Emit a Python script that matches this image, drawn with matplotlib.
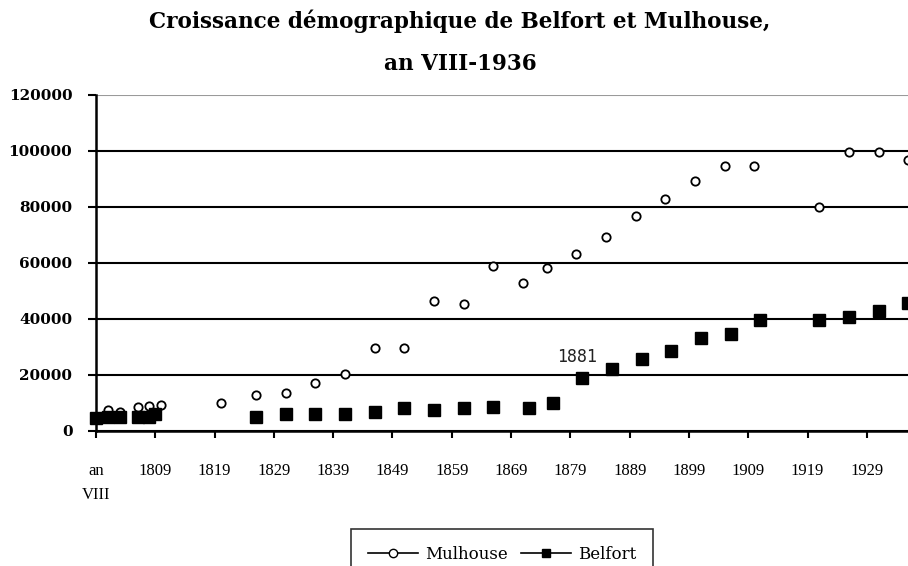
import numpy as np
import matplotlib
matplotlib.use("Agg")
import matplotlib.pyplot as plt
from matplotlib.lines import Line2D

# population figures (census years)
mulhouse_years = [1801, 1803, 1806, 1808, 1810, 1820, 1826, 1831, 1836, 1841, 1846, 1851,
                  1856, 1861, 1866, 1871, 1875, 1880, 1885, 1890, 1895, 1900, 1905, 1910,
                  1921, 1926, 1931, 1936]
mulhouse_pop = [7400, 6700, 8400, 8900, 9300, 9800, 12800, 13400, 17000, 20200, 29500, 29500,
                46200, 45300, 59000, 52700, 58300, 63300, 69400, 76600, 82900, 89100, 94500, 94500,
                79800, 99600, 99600, 96800]

belfort_years = [1799, 1801, 1803, 1806, 1808, 1809, 1826, 1831, 1836, 1841, 1846, 1851,
                 1856, 1861, 1866, 1872, 1876, 1881, 1886, 1891, 1896, 1901, 1906, 1911,
                 1921, 1926, 1931, 1936]
belfort_pop = [4700, 4800, 5000, 4900, 5000, 6100, 4800, 5900, 5900, 5900, 6600, 8200,
               7400, 8200, 8600, 8200, 9800, 18900, 22000, 25600, 28600, 33100, 34500, 39400,
               39400, 40600, 42900, 45800]

tick_years = [1799, 1809, 1819, 1829, 1839, 1849, 1859, 1869, 1879, 1889, 1899, 1909, 1919, 1929]
tick_labels = ["an\nVIII", "1809", "1819", "1829", "1839", "1849", "1859", "1869", "1879",
               "1889", "1899", "1909", "1919", "1929"]
y_ticks = [0, 20000, 40000, 60000, 80000, 100000, 120000]

title = "Croissance démographique de Belfort et Mulhouse,\nan VIII-1936"
serif = ["Liberation Serif", "DejaVu Serif"]
wide_serif = ["DejaVu Serif"]

fig = plt.figure(figsize=(9.08, 5.66), dpi=100)
ax = fig.add_axes([96 / 908, 135.3 / 566, 812 / 908, 335.7 / 566])

ax.plot(mulhouse_years, mulhouse_pop, linestyle="none", marker="o", markersize=6,
        markerfacecolor="white", markeredgecolor="black", markeredgewidth=1.3,
        clip_on=False, zorder=4)
ax.plot(belfort_years, belfort_pop, linestyle="none", marker="s", markersize=8,
        color="black", clip_on=False, zorder=4)

# label on the 1881 Belfort point
i81 = belfort_years.index(1881)
ax.annotate("1881", xy=(belfort_years[i81], belfort_pop[i81]), xytext=(-4, 15),
            textcoords="offset points", ha="center", va="center",
            family="DejaVu Sans Mono", fontsize=12, color="#222222")

ax.set_xlim(1799, 1799 + 812 / 5.93)
ax.set_ylim(0, 120000)

ax.set_xticks(tick_years)
ax.set_xticklabels(tick_labels, family=serif, fontsize=12, linespacing=1.7)
ax.set_yticks(y_ticks)
ax.set_yticklabels([str(v) for v in y_ticks], family=wide_serif, fontsize=11, fontweight="bold")
ax.tick_params(axis="x", direction="out", length=5, width=1.5, pad=18)
ax.tick_params(axis="y", direction="out", length=6, width=1.5, pad=11)

ax.grid(axis="y", color="black", linewidth=1.5)
ax.get_ygridlines()[-1].set_color("#9a9a9a")
ax.set_axisbelow(True)

for side in ["top", "right"]:
    ax.spines[side].set_visible(False)
for side in ["left", "bottom"]:
    ax.spines[side].set_linewidth(1.8)

fig.text(460 / 908, 1 - 42.5 / 566, title, ha="center", va="center", family=wide_serif,
         fontsize=15.5, fontweight="bold", linespacing=2.15)

handles = [
    Line2D([], [], color="black", linewidth=1.2, marker="o", markersize=6,
           markerfacecolor="white", markeredgecolor="black"),
    Line2D([], [], color="black", linewidth=1.2, marker="s", markersize=6),
]
leg = fig.legend(handles, ["Mulhouse", "Belfort"], loc="upper center",
                 bbox_to_anchor=(502 / 908, 1 - 529 / 566), ncol=2,
                 prop={"family": wide_serif, "size": 12}, frameon=True, fancybox=False,
                 edgecolor="black", handlelength=3.0, columnspacing=0.8,
                 handletextpad=0.4, borderpad=1.0, borderaxespad=0)
leg.get_frame().set_linewidth(1.2)

fig.savefig("out.png", dpi=100)
